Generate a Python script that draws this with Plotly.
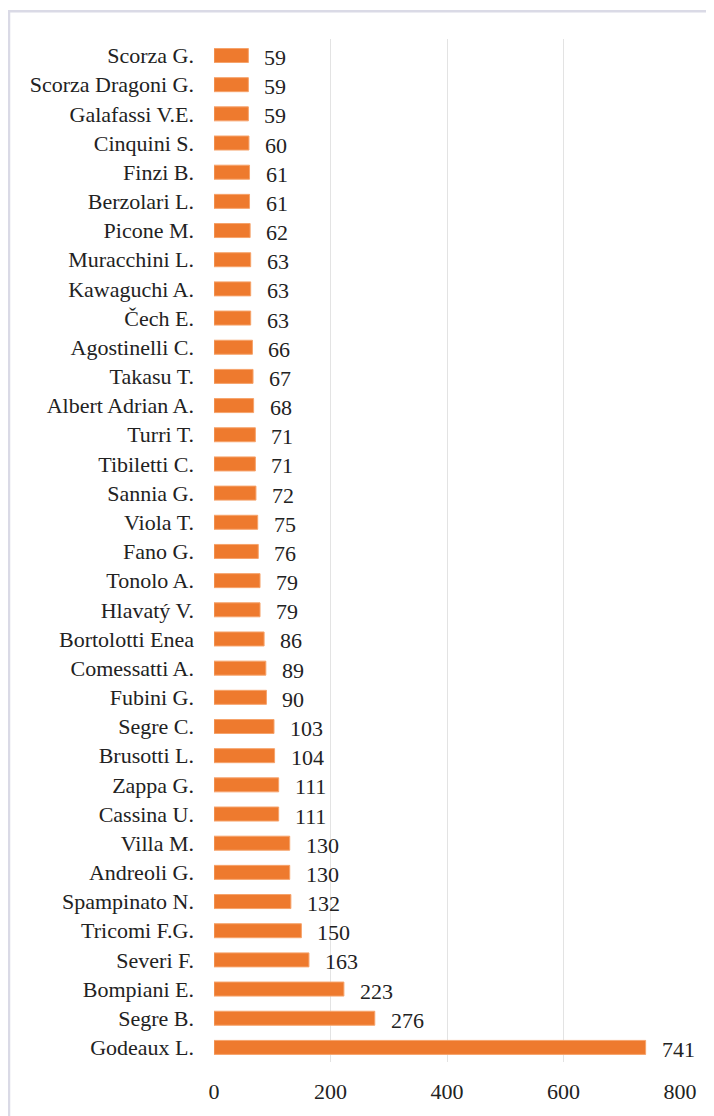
import plotly.graph_objects as go

names = ["Scorza G.", "Scorza Dragoni G.", "Galafassi V.E.", "Cinquini S.", "Finzi B.",
         "Berzolari L.", "Picone M.", "Muracchini L.", "Kawaguchi A.", "Čech E.",
         "Agostinelli C.", "Takasu T.", "Albert Adrian A.", "Turri T.", "Tibiletti C.",
         "Sannia G.", "Viola T.", "Fano G.", "Tonolo A.", "Hlavatý V.",
         "Bortolotti Enea", "Comessatti A.", "Fubini G.", "Segre C.", "Brusotti L.",
         "Zappa G.", "Cassina U.", "Villa M.", "Andreoli G.", "Spampinato N.",
         "Tricomi F.G.", "Severi F.", "Bompiani E.", "Segre B.", "Godeaux L."]
counts = [59, 59, 59, 60, 61, 61, 62, 63, 63, 63, 66, 67, 68, 71, 71, 72, 75, 76, 79, 79,
          86, 89, 90, 103, 104, 111, 111, 130, 130, 132, 150, 163, 223, 276, 741]
x_ticks = [0, 200, 400, 600, 800]

FONT = "Liberation Serif"
FS = 22
OFF = 8  # page body margin
W, H = 714 - OFF, 1116 - OFF
L, R, T, B = 214 - OFF, 34, 31, 41

fig = go.Figure()
fig.add_trace(go.Bar(
    x=counts, y=names, orientation="h",
    marker=dict(color="#EE7A2E", line=dict(color="#F6A36B", width=1)),
    hoverinfo="x+y",
))

annotations = []
for n, v in zip(names, counts):
    annotations.append(dict(x=v, y=n, xref="x", yref="y", text=str(v), showarrow=False,
                            xanchor="left", yanchor="middle", xshift=14, yshift=-2,
                            font=dict(family=FONT, size=FS, color="#222222")))

pw = W - L - R
ph = H - T - B
fig.add_shape(type="rect", xref="paper", yref="paper",
              x0=(9 - OFF - L) / pw, x1=(W + 10 - L) / pw,
              y0=-0.2, y1=(H - B - (11 - OFF)) / ph,
              line=dict(color="#DADAE6", width=2.5), fillcolor="rgba(0,0,0,0)", layer="below")

fig.update_layout(
    width=W, height=H,
    margin=dict(l=L, r=R, t=T, b=B, pad=0),
    paper_bgcolor="white", plot_bgcolor="white",
    bargap=0.52,
    showlegend=False,
    annotations=annotations,
    font=dict(family=FONT, size=FS, color="#222222"),
    xaxis=dict(range=[0, 800], tickvals=x_ticks, showgrid=True, gridcolor="#E3E3E3",
               gridwidth=1, zeroline=False, showline=False, ticks="outside", ticklen=10,
               tickcolor="rgba(0,0,0,0)", tickfont=dict(family=FONT, size=FS, color="#222222"),
               fixedrange=True),
    yaxis=dict(autorange="reversed", type="category", showgrid=False, zeroline=False,
               showline=False, ticks="", ticklabelstandoff=19,
               tickfont=dict(family=FONT, size=FS, color="#222222"), fixedrange=True),
)

fig.write_html("out.html")
